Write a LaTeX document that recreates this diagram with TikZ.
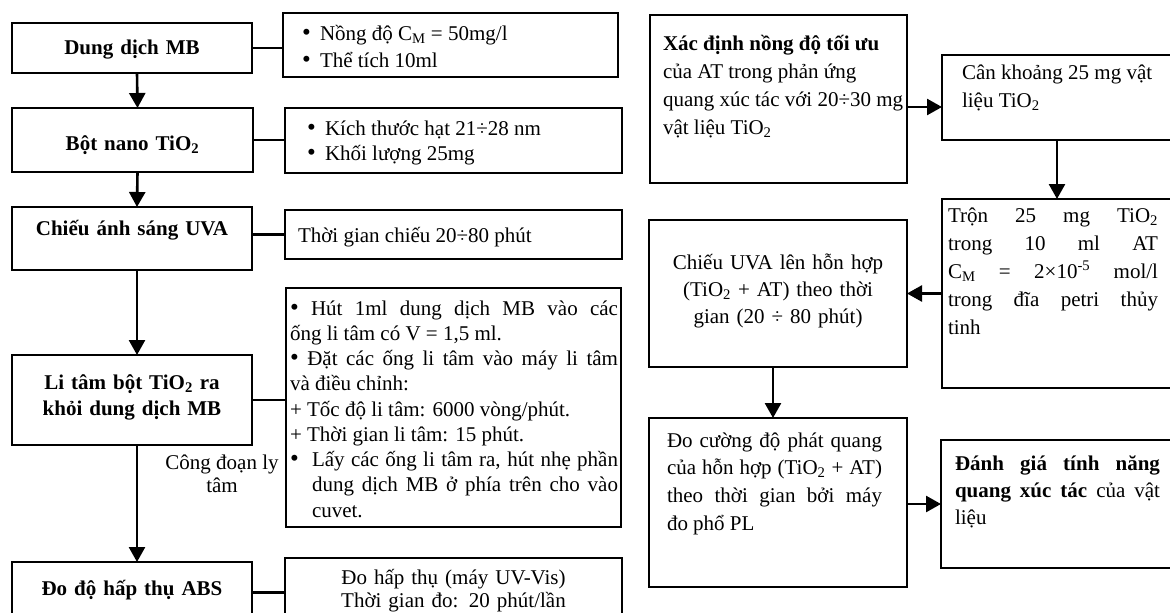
\documentclass[tikz,border=0pt]{standalone}
\usepackage{fontspec}
\setmainfont{Liberation Serif}
\usetikzlibrary{arrows.meta,positioning}
\newcommand{\pads}[2]{\leftskip=#1\relax\rightskip=#2\relax}
\newcommand{\padbox}[4]{\parbox[t]{#1}{\pads{#2}{#3}#4}}
\newcommand{\bigbullet}{{\fontsize{25pt}{25pt}\selectfont\textbullet}}
\newcommand{\bitem}{\makebox[18pt][l]{\bigbullet}}
\tikzset{
  box/.style={draw, line width=2.4pt, inner sep=0pt, outer sep=0pt, anchor=north west},
  lead/.style={font=\fontsize{21pt}{#1}\selectfont},
  arr/.style={line width=2.6pt, -{Triangle[width=16pt,length=15pt]}},
  link/.style={line width=2.6pt},
}
\begin{document}
\begin{tikzpicture}[x=1pt, y=-1pt, font=\fontsize{21pt}{26pt}\selectfont]
    \useasboundingbox (0,0) rectangle (1170,613);
    \clip (0,0) rectangle (1170,613);
    % Main column: MB procedure
    \node[box, text width=240pt, text height=31pt, text depth=19pt, align=center] (mb) at (12,23) {\bfseries Dung dịch MB};
    \node[box, text width=241pt, text height=42pt, text depth=22pt, align=center] (nano) at (12,108) {\bfseries Bột nano TiO\textsubscript{2}};
    \node[box, text width=240pt, text height=28pt, text depth=35pt, align=center] (uva) at (12,207) {\bfseries Chiếu ánh sáng UVA};
    \node[box, text width=240pt, text height=34pt, text depth=56pt, align=center] (centri) at (12,355) {\bfseries Li tâm bột TiO\textsubscript{2} ra\\ khỏi dung dịch MB};
    \node[box, text width=240pt, text height=33pt, text depth=40pt, align=center] (abs) at (12,562) {\bfseries Đo độ hấp thụ ABS};
    % Side notes
    \node[box, text height=27pt, text depth=37pt, lead=27pt] (mbNote) at (283,13) {\padbox{335pt}{19pt}{0pt}{\bitem Nồng độ C\textsubscript{M} = 50mg/l\\ \bitem Thể tích 10ml}};
    \node[box, text height=27pt, text depth=38pt, lead=25pt] (nanoNote) at (285,108) {\padbox{337pt}{22pt}{0pt}{\bitem Kích thước hạt 21÷28 nm\\ \bitem Khối lượng 25mg}};
    \node[box, text height=32pt, text depth=17pt] (uvaNote) at (285,210) {\padbox{337pt}{13pt}{0pt}{Thời gian chiếu 20÷80 phút}};
    \node[box, text height=27pt, text depth=212pt, lead=25.25pt] (centriNote) at (286,288) {\padbox{335pt}{4pt}{3pt}{%
      \bigbullet{} Hút 1ml dung dịch MB vào các\linebreak ống li tâm có V = 1,5 ml.\par
      \bigbullet{} Đặt các ống li tâm vào máy li tâm\linebreak và điều chỉnh:\par
      + Tốc độ li tâm: 6000 vòng/phút.\par
      + Thời gian li tâm: 15 phút.\par
      \hangindent=22pt\hangafter=1 \makebox[22pt][l]{\bigbullet}Lấy các ống li tâm ra, hút nhẹ phần\linebreak dung dịch MB ở phía trên cho vào\linebreak cuvet.}};
    \node[box, text width=337pt, text height=26pt, text depth=41pt, align=center, lead=23pt] (absNote) at (285,558) {Đo hấp thụ (máy UV-Vis)\\ Thời gian đo: 20 phút/lần};
    \node[align=center, lead=23pt] (stage) at (222,474) {Công đoạn ly\\ tâm};
    % Links and arrows
    \draw[link] (mb.east) -- (mb.east -| mbNote.west);
    \draw[link] (nano.east) -- (nano.east -| nanoNote.west);
    \draw[link] (uva.east |- uvaNote.west) -- (uvaNote.west);
    \draw[link] (centri.east) -- (centri.east -| centriNote.west);
    \draw[link] (abs.mid east) -- (abs.mid east -| absNote.west);
    \draw[arr] ([xshift=5pt]mb.south) -- ([xshift=5pt]nano.north);
    \draw[arr] ([xshift=5pt]nano.south) -- ([xshift=5pt]uva.north);
    \draw[arr] ([xshift=5pt]uva.south) -- ([xshift=5pt]centri.north);
    \draw[arr] ([xshift=5pt]centri.south) -- ([xshift=5pt]abs.north);
    % Right part: AT procedure
    \node[box, text height=35pt, text depth=133pt, lead=28pt] (opt) at (650,15) {\padbox{257pt}{13pt}{0pt}{\textbf{Xác định nồng độ tối ưu}\\ của AT trong phản ứng\\ quang xúc tác với 20÷30 mg\\ vật liệu TiO\textsubscript{2}}};
    \node[box, text height=24pt, text depth=61pt, lead=28pt] (weigh) at (942,55) {\padbox{248pt}{20pt}{0pt}{Cân khoảng 25 mg vật\\ liệu TiO\textsubscript{2}}};
    \node[box, text height=23pt, text depth=166pt, lead=28pt] (mix) at (942,199) {\padbox{248pt}{6pt}{32pt}{Trộn 25 mg TiO\textsubscript{2}\linebreak trong 10 ml AT\linebreak C\textsubscript{M} = 2×10\textsuperscript{-5} mol/l\linebreak trong đĩa petri thủy\linebreak tinh}};
    \node[box, text width=258pt, text height=49pt, text depth=98pt, align=center, lead=27pt] (irr) at (649,220) {Chiếu UVA lên hỗn hợp\\ (TiO\textsubscript{2} + AT) theo thời\\ gian (20 ÷ 80 phút)};
    \node[box, text height=29pt, text depth=140pt, lead=27.7pt] (pl) at (649,418) {\padbox{258pt}{18pt}{25pt}{Đo cường độ phát quang\linebreak của hỗn hợp (TiO\textsubscript{2} + AT)\linebreak theo thời gian bởi máy\linebreak đo phổ PL}};
    \node[box, text height=30pt, text depth=98pt, lead=27pt] (eval) at (941,440) {\padbox{249pt}{14pt}{30pt}{\textbf{Đánh giá tính năng}\linebreak \textbf{quang xúc tác} của vật\linebreak liệu}};
    \draw[arr] ([yshift=-8pt]opt.east) -- ([yshift=-8pt]opt.east -| weigh.west);
    \draw[arr] ([xshift=-9pt]weigh.south) -- ([xshift=-9pt]weigh.south |- mix.north);
    \draw[arr] (mix.west) -- (mix.west -| irr.east);
    \draw[arr] ([xshift=-5pt]irr.south) -- ([xshift=-5pt]irr.south |- pl.north);
    \draw[arr] (eval.west -| pl.east) -- (eval.west);
\end{tikzpicture}
\end{document}
